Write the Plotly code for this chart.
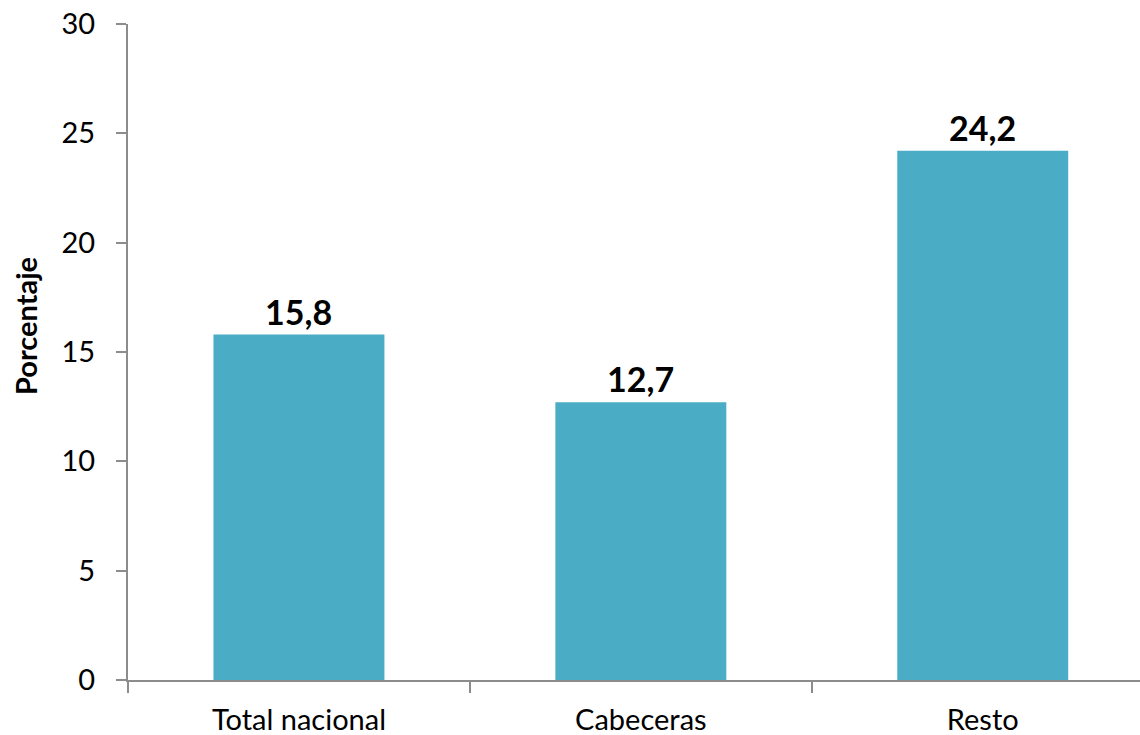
import plotly.graph_objects as go

categories = ["Total nacional", "Cabeceras", "Resto"]
values = [15.8, 12.7, 24.2]
value_labels = ["15,8", "12,7", "24,2"]
y_ticks = [0, 5, 10, 15, 20, 25, 30]

FONT = "Lato"
AXIS_COLOR = "#8c8c8c"

W, H = 1140, 735
L, T = 128, 24
PLOT_H = 656
B = H - T - PLOT_H

fig = go.Figure()
fig.add_trace(go.Bar(
    x=categories,
    y=values,
    width=0.5,
    marker=dict(color="#4BACC6", line=dict(width=0)),
    hoverinfo="skip",
))
for c, v, lab in zip(categories, values, value_labels):
    fig.add_annotation(
        x=c, y=v, text=lab, showarrow=False,
        xanchor="center", yanchor="bottom", yshift=1,
        font=dict(family=FONT, size=34, color="black", weight="bold"),
    )

fig.update_layout(
    width=W, height=H,
    margin=dict(l=L, r=0, t=T, b=B),
    paper_bgcolor="white", plot_bgcolor="white",
    showlegend=False,
    font=dict(family=FONT, color="black"),
)
fig.update_xaxes(
    type="category",
    range=[-0.5, 2.46],
    showline=True, linecolor=AXIS_COLOR, linewidth=2,
    ticks="outside", tickson="boundaries", ticklen=11, tickwidth=2, tickcolor=AXIS_COLOR,
    tickfont=dict(family=FONT, size=29, color="black"),
    ticklabelstandoff=13,
    showgrid=False, zeroline=False,
)
fig.update_yaxes(
    range=[0, 30],
    tickvals=y_ticks,
    showline=True, linecolor=AXIS_COLOR, linewidth=2,
    ticks="outside", ticklen=10, tickwidth=2, tickcolor=AXIS_COLOR,
    tickfont=dict(family=FONT, size=29, color="black"),
    ticklabelstandoff=15,
    showgrid=False, zeroline=False,
)
fig.add_annotation(
    text="Porcentaje", textangle=-90,
    xref="paper", yref="paper",
    x=(25 - L) / (W - L), y=(680 - 326) / PLOT_H,
    xanchor="center", yanchor="middle", showarrow=False,
    font=dict(family=FONT, size=29, color="black", weight="bold"),
)

fig.write_html(
    "out.html",
    config={"displayModeBar": False},
    post_script="document.body.style.margin='0';document.body.style.overflow='hidden';",
)
